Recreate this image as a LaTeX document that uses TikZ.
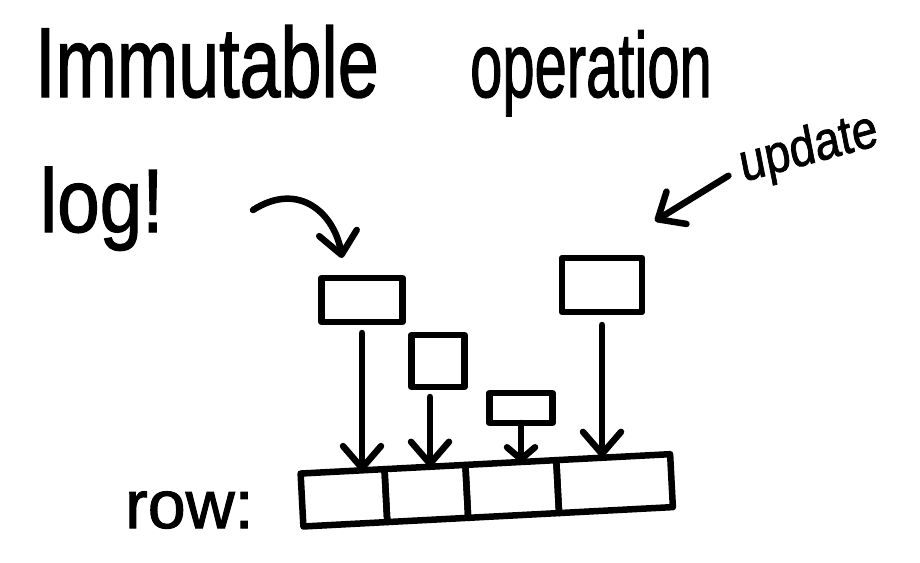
\documentclass[tikz,border=0pt]{standalone}
\usepackage{fontspec}
\setmainfont{Liberation Sans}
\newfontfamily\handfont{Liberation Sans}[FakeBold=1.5]
\usetikzlibrary{arrows.meta,positioning}

\begin{document}
\begin{tikzpicture}[x=1pt, y=-1pt,
    ink/.style={line width=6.5pt, line cap=round, line join=round},
    tip/.style={-{Straight Barb[round, length=22pt, width=38pt]}},
    smalltip/.style={-{Straight Barb[round, length=12pt, width=28pt]}},
    slip/.style={draw, rectangle, line width=6.5pt, line join=round, inner sep=0pt, outer sep=0pt},
    cell/.style={draw, rectangle, line width=6.5pt, line join=round, inner sep=0pt, outer sep=0pt,
                 minimum height=53pt, rotate=3, anchor=west},
    hand/.style={inner sep=0pt, anchor=base west}]
    \useasboundingbox (0,0) rectangle (920,562);
    \fill[white] (0,0) rectangle (920,562);

    % Titel
    \node[hand, font=\handfont\fontsize{92}{92}\selectfont, xscale=0.8, yscale=1.08] (immutable) at (35,97) {Immutable};
    \node[hand, font=\handfont\fontsize{92}{92}\selectfont, xscale=0.63] (operation) at (470,97) {operation};
    \node[hand, font=\handfont\fontsize{90}{90}\selectfont, xscale=0.85] (log) at (40,232) {log!};
    \node[hand, font=\handfont\fontsize{54}{54}\selectfont, xscale=0.85, rotate=13] (update) at (743,182) {update};
    \node[hand, font=\handfont\fontsize{68}{68}\selectfont] (rowlabel) at (125,528) {row:};

    % Operationen
    \node[slip, minimum width=81pt, minimum height=44pt] (opA) at (362,300) {};
    \node[slip, minimum width=80pt, minimum height=54pt] (opB) at (602,285) {};
    \node[slip, minimum width=53pt, minimum height=52pt] (opC) at (438,361) {};
    \node[slip, minimum width=63pt, minimum height=30pt] (opD) at (521,408) {};

    % Zeile
    \node[cell, minimum width=84pt] (cell1) at (302,500) {};
    \node[cell, minimum width=81pt] (cell2) at (cell1.east) {};
    \node[cell, minimum width=91pt] (cell3) at (cell2.east) {};
    \node[cell, minimum width=114pt] (cell4) at (cell3.east) {};

    % Pfeile
    \coordinate (logtail) at (253,210);
    \draw[ink, tip] (logtail) .. controls (300,180) and (335,215) .. ([xshift=-20pt,yshift=20pt]opA.north);
    \draw[ink, tip, shorten <=14pt] (update.west) -- ([xshift=53pt,yshift=37pt]opB.north);
    \draw[ink, tip, shorten <=11pt] (opA.south) -- (opA.south |- cell1.north);
    \draw[ink, tip, shorten <=10pt] ([xshift=-8pt]opC.south) -- ([xshift=-8pt]opC.south |- cell2.north);
    \draw[ink, smalltip] (opD.south) -- (opD.south |- cell3.north);
    \draw[ink, tip, shorten <=13pt] (opB.south) -- (opB.south |- cell4.north);
\end{tikzpicture}
\end{document}
